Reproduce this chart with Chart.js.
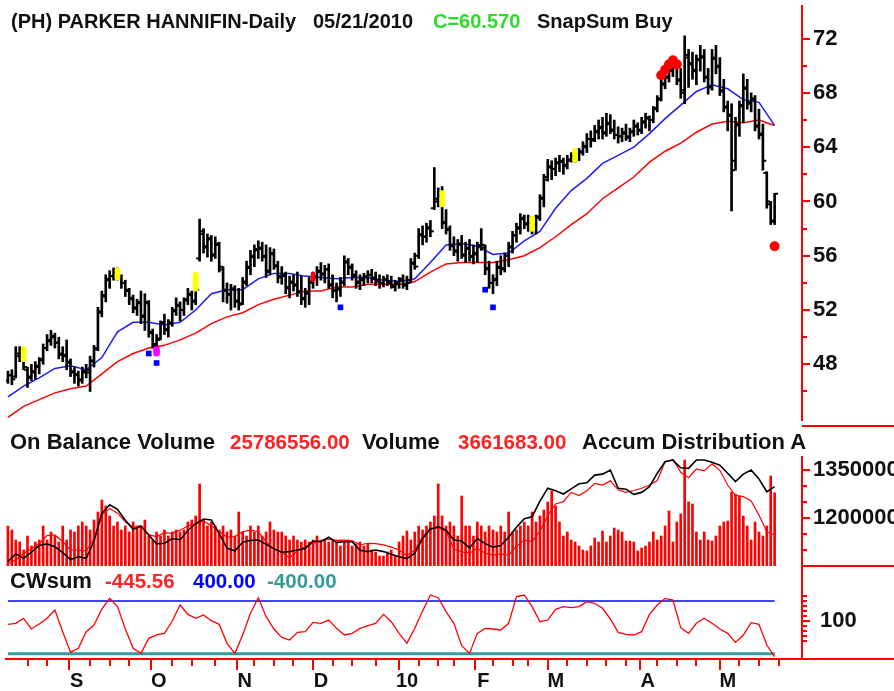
<!DOCTYPE html>
<html>
<head>
<meta charset="utf-8">
<script src="https://cdn.jsdelivr.net/npm/chart.js@4.4.1/dist/chart.umd.min.js"></script>
<style>
  body { margin: 0; background: #fff; width: 894px; height: 691px; position: relative; overflow: hidden;
         font-family: "Liberation Sans", Arial, sans-serif; }
  canvas { position: absolute; left: 0; }
  .t { position: absolute; font-weight: bold; font-size: 20px; line-height: 1; white-space: nowrap; color: #111; }
  .p { font-size: 22px; }
  .n { font-size: 20.5px; margin-top: 1px; }
  .hl { position: absolute; left: 802px; width: 92px; height: 0; border-top: 2px solid #f00; }
</style>
</head>
<body>
<canvas id="price" width="894" height="426" style="top:0"></canvas>
<canvas id="vol" width="894" height="140" style="top:426px"></canvas>
<canvas id="cw" width="894" height="125" style="top:566px"></canvas>

<div class="t" style="left:11px;top:11px">(PH) PARKER HANNIFIN-Daily</div>
<div class="t" style="left:313px;top:11px">05/21/2010</div>
<div class="t" style="left:433px;top:11px;color:#2bdc2b">C=60.570</div>
<div class="t" style="left:537px;top:11px">SnapSum Buy</div>

<div class="t p" style="left:10px;top:431px">On Balance Volume</div>
<div class="t n" style="left:230px;top:431px;color:#f22">25786556.00</div>
<div class="t p" style="left:362px;top:431px">Volume</div>
<div class="t n" style="left:458px;top:431px;color:#f22">3661683.00</div>
<div class="t p" style="left:582px;top:431px">Accum Distribution A</div>

<div class="t p" style="left:10px;top:570px">CWsum</div>
<div class="t n" style="left:105px;top:570px;color:#f22">-445.56</div>
<div class="t n" style="left:193px;top:570px;color:#00f">400.00</div>
<div class="t n" style="left:267px;top:570px;color:#339999">-400.00</div>

<div class="hl" style="top:425px"></div>
<div class="hl" style="top:565px"></div>
<div class="hl" style="top:658px"></div>

<script>
// daily bars, 08/11/2009 .. 05/21/2010 (index = trading day)
const opens = [
  46.8,47.2,47.1,48.6,48.9,47.6,47.1,47.4,47.9,48.4, 49.2,49.7,50.1,49.6,48.7,48.7,48.1,47.4,47.3,46.8,
  47.5,47.4,48.3,49.2,51.9,53.1,54.2,54.5,54.8,54.3, 54.0,53.5,52.9,52.1,52.6,51.5,52.5,50.4,49.4,49.9,
  51.1,50.5,51.1,52.0,52.3,52.0,52.8,53.1,52.7,55.8, 57.6,56.7,57.2,56.1,56.8,55.0,53.5,53.1,53.5,52.7,
  52.5,54.1,55.1,56.0,56.5,56.5,55.9,54.9,56.1,55.2, 54.5,54.5,53.7,54.1,53.9,53.3,52.9,53.3,54.1,54.4,
  54.9,54.6,55.0,53.8,53.5,53.6,54.1,55.5,55.1,54.6, 54.0,54.3,54.5,54.6,54.3,54.2,54.0,54.3,54.1,53.7,
  54.0,54.3,53.8,54.2,55.4,56.0,57.5,57.4,58.1,59.5, 60.2,60.4,58.5,57.9,56.8,56.3,56.9,56.1,56.5,56.0,
  56.1,56.7,56.6,55.1,54.0,54.3,55.1,55.1,56.0,56.7, 57.5,58.1,58.7,58.3,58.4,58.3,58.9,60.3,61.8,62.5,
  62.4,62.9,62.9,62.7,63.1,63.2,63.5,63.7,64.1,64.6, 64.6,65.1,65.5,65.1,65.7,65.2,64.9,64.8,65.1,64.7,
  65.2,65.5,65.3,65.9,66.1,66.0,66.9,67.6,68.7,69.1, 69.7,70.1,68.9,68.2,70.6,70.1,69.7,70.5,70.7,69.1,
  68.5,70.5,69.9,68.1,66.9,66.3,63.0,65.7,67.1,68.3, 67.3,67.5,65.5,64.9,62.1,59.8,58.6
];
const highs = [
  47.5,47.6,49.3,49.3,49.0,47.8,48.0,48.2,48.5,49.5, 50.2,50.5,50.3,50.0,49.3,49.8,48.4,47.8,47.5,47.8,
  48.0,48.6,49.4,52.2,53.4,54.6,54.9,55.1,55.1,54.6, 54.2,53.6,53.1,52.8,53.4,53.2,52.7,50.6,50.2,51.2,
  51.7,51.3,52.2,52.9,52.6,52.9,53.6,53.4,53.8,58.7, 58.0,57.6,57.5,57.4,57.0,55.2,54.0,53.9,53.8,53.6,
  54.4,55.6,56.4,56.8,57.1,57.0,56.8,56.6,56.5,55.6, 55.2,54.8,54.5,54.6,54.8,54.5,53.6,54.4,54.8,55.2,
  55.5,55.3,55.4,54.6,54.0,54.4,56.0,55.8,55.4,54.9, 54.6,54.7,54.9,55.0,54.8,54.6,54.5,54.6,54.5,54.2,
  54.4,54.6,54.5,55.8,56.2,58.0,58.2,58.4,58.6,62.5, 61.0,61.1,59.4,58.2,57.4,57.2,57.5,57.0,57.2,56.8,
  57.0,58.0,56.8,55.6,54.6,55.6,56.0,56.2,57.0,57.8, 58.4,59.1,59.0,59.0,58.9,59.0,60.5,62.0,63.1,63.0,
  63.2,63.4,63.2,63.4,63.6,63.8,63.9,64.4,65.0,65.2, 65.6,66.0,66.2,66.5,66.4,66.0,65.5,65.4,65.7,65.4,
  66.0,65.8,66.2,66.5,66.3,67.0,67.8,69.0,69.5,70.0, 70.6,70.4,69.8,72.2,71.2,71.0,70.8,71.5,71.2,69.8,
  71.2,71.5,70.6,69.0,67.4,67.2,66.2,67.4,69.4,69.0, 68.0,67.8,66.8,65.7,62.2,60.0,60.6
];
const lows = [
  46.6,46.5,47.0,48.2,47.6,46.3,46.8,46.9,47.3,48.0, 49.0,49.4,49.2,48.4,48.2,47.6,47.1,46.6,46.4,46.6,
  47.0,46.0,47.8,49.0,51.5,52.6,53.6,54.2,54.2,53.6, 53.0,52.4,51.8,51.6,51.0,50.5,50.0,49.2,49.0,49.8,
  50.2,50.0,50.8,51.6,51.2,51.6,52.4,52.0,52.4,55.6, 56.2,55.9,55.6,55.8,54.8,52.6,52.5,52.0,52.2,52.0,
  52.4,53.8,54.6,55.2,55.8,55.6,54.4,54.6,55.0,54.0, 53.9,53.2,52.9,53.4,53.0,52.4,52.2,52.4,53.6,53.8,
  54.2,54.0,53.6,52.9,52.6,53.0,53.8,54.6,54.2,53.6, 53.5,53.8,54.0,54.0,53.8,53.6,53.7,53.8,53.6,53.4,
  53.6,53.6,53.5,54.0,55.0,55.8,56.8,57.0,57.4,59.4, 59.6,58.0,57.6,56.4,56.0,55.6,55.8,55.5,55.6,55.4,
  55.5,56.4,54.6,53.6,53.2,53.8,54.6,54.8,55.2,56.2, 57.0,57.6,58.0,57.8,57.6,57.6,58.6,59.6,61.5,61.6,
  61.9,62.2,62.0,62.4,62.9,62.9,63.0,63.4,63.6,64.0, 64.4,64.6,64.6,64.8,65.0,64.6,64.3,64.4,64.5,64.4,
  64.8,64.9,65.0,65.4,65.2,65.8,66.6,67.4,68.3,68.8, 69.2,68.6,67.6,67.2,68.4,69.0,68.6,69.6,68.8,67.9,
  68.2,69.4,67.8,66.6,65.2,59.3,62.3,64.8,65.8,66.8, 66.6,65.2,64.6,62.3,59.5,58.3,58.3
];
const closes = [
  47.2,46.9,48.8,49.0,47.8,47.0,47.5,47.8,48.3,49.2, 49.8,50.0,49.6,48.8,48.6,48.2,47.5,47.2,46.9,47.4,
  47.6,48.2,49.1,51.8,53.0,54.3,54.5,54.7,54.4,54.0, 53.4,52.8,52.2,52.5,51.6,52.6,50.3,49.5,49.8,51.0,
  50.6,51.0,51.9,52.4,52.0,52.7,53.2,52.6,53.5,57.8, 56.6,57.3,56.0,56.9,55.2,53.4,53.2,53.6,52.6,52.4,
  54.0,55.2,55.9,56.4,56.6,56.0,54.8,56.2,55.3,54.4, 54.6,53.6,54.0,53.8,53.4,52.8,53.2,54.0,54.5,54.8,
  54.7,55.0,53.9,53.4,53.5,54.0,55.6,55.2,54.5,54.1, 54.2,54.4,54.6,54.4,54.1,54.0,54.2,54.0,53.8,53.9,
  54.2,53.9,54.0,55.5,55.2,57.6,57.4,58.0,57.8,60.0, 60.5,58.4,58.0,56.7,56.4,56.8,56.0,56.6,55.9,56.2,
  56.8,56.8,55.0,54.0,54.2,55.2,55.0,56.0,56.6,57.5, 58.0,58.8,58.4,58.5,58.2,58.8,60.2,61.6,62.6,62.4,
  62.8,63.0,62.6,63.0,63.3,63.5,63.6,64.0,64.6,64.5, 65.2,65.4,65.0,65.8,65.3,64.9,64.8,65.0,64.8,65.1,
  65.6,65.2,65.8,66.2,66.0,66.8,67.5,68.6,69.2,69.6, 70.2,69.0,68.0,70.8,70.2,69.6,70.4,70.6,69.2,68.4,
  70.6,70.0,68.2,67.0,66.4,62.3,65.6,67.0,68.4,67.2, 67.6,65.6,65.0,63.0,60.0,58.5,60.57
];

// moving averages, read every 4th bar
const maStep = 4;
const blueMA = [45.6,46.4,47.0,47.7,47.9,47.6,48.5,50.4,51.1,51.1, 50.9,51.1,52.0,53.2,53.5,53.5,54.3,54.7,54.7,54.5,
  54.4,54.3,54.4,54.4,54.2,54.1,54.3,55.5,56.8,56.9, 56.7,56.1,56.2,57.1,57.8,59.5,60.8,61.7,62.8,63.4,
  64.0,65.0,66.1,67.1,68.1,68.6,68.3,67.5,67.3,65.6];
const redMA = [44.1,44.9,45.4,45.9,46.2,46.4,47.3,48.2,48.8,49.2, 49.4,49.8,50.3,51.0,51.5,51.8,52.4,52.8,53.1,53.4,
  53.4,53.7,53.7,53.9,53.9,53.9,54.1,54.8,55.4,55.5, 55.5,55.5,55.7,56.0,56.6,57.4,58.3,59.1,60.2,61.0,
  61.8,62.9,63.7,64.3,65.1,65.7,65.9,65.8,66.0,65.6];

// signal marks on the price panel
const yellowIdx = [4, 28, 48, 111, 134, 145];
const yellowLo = [48.2, 54.2, 53.4, 59.6, 57.8, 62.9];
const yellowHi = [49.3, 55.1, 54.8, 60.8, 58.9, 63.9];
const magentaIdx = [38], magentaLo = [48.6], magentaHi = [49.3];
const redMarkIdx = [78], redMarkLo = [54.1], redMarkHi = [54.8];
const blueIdx = [36, 38, 85, 122, 124];
const blueVal = [48.8, 48.1, 52.2, 53.5, 52.2];
const redDotIdx = [167, 168, 169, 170, 171, 196];
const redDotVal = [69.3, 69.7, 70.1, 70.4, 70.1, 56.7];

// volume (millions of shares), one per bar
const volume = [
  2.0,1.8,1.3,1.2,0.8,1.5,1.0,1.2,1.3,2.0, 1.3,1.7,1.5,1.2,2.0,1.3,1.8,1.7,2.0,2.2,
  2.0,1.8,2.3,2.7,3.3,3.0,2.5,2.0,2.2,1.8, 2.0,1.7,2.2,2.0,2.0,2.3,1.5,1.3,1.7,1.5,
  1.8,1.5,1.7,1.8,1.7,1.8,2.2,2.3,2.5,4.1, 2.3,2.0,2.2,2.0,1.8,2.0,1.7,1.8,1.5,2.7,
  1.7,1.5,2.0,1.7,2.0,1.5,1.7,2.2,1.8,1.7, 1.7,1.5,1.3,1.5,1.3,1.2,1.3,1.2,1.3,1.5,
  1.2,1.3,1.2,1.3,1.2,1.0,1.2,1.3,1.0,1.1, 1.2,1.0,1.1,0.8,0.7,0.5,0.5,0.7,0.8,0.5,
  1.2,1.5,1.75,1.3,1.7,2.0,1.8,2.0,2.2,2.5, 4.1,2.5,2.0,2.2,2.0,1.5,3.5,2.0,2.0,1.5,
  2.2,2.0,1.7,2.0,1.8,1.7,2.0,1.7,2.7,1.7, 1.8,2.0,2.2,2.0,2.7,2.2,2.5,2.8,3.2,3.75,
  3.0,2.2,1.5,1.7,1.3,1.2,1.0,0.8,0.75,1.0, 1.4,1.2,1.75,1.2,1.5,1.9,1.8,1.7,1.25,1.25,
  1.2,0.75,0.9,1.0,1.2,1.7,1.3,1.5,2.0,2.75, 1.2,2.2,2.6,5.3,3.2,3.1,1.7,1.3,1.7,1.3,
  1.25,1.5,2.0,2.2,2.25,3.7,3.6,3.5,2.5,2.0, 1.3,2.2,1.7,1.5,2.0,4.5,3.66
];

// indicator lines read every 2nd bar (thousands on the right axis)
const lineStep = 2;
const obvK = [1064,1088,1074,1093,1114,1119,1110,1092,1070,1079, 1074,1128,1215,1241,1227,1193,1165,1174,1147,1119,
  1121,1136,1132,1161,1182,1197,1194,1151,1106,1097, 1124,1130,1131,1118,1104,1093,1095,1100,1105,1128,
  1126,1140,1124,1126,1126,1099,1095,1100,1095,1087, 1079,1073,1090,1136,1165,1173,1162,1131,1128,1107,
  1136,1120,1109,1114,1140,1171,1198,1204,1253,1293, 1285,1275,1291,1307,1310,1334,1337,1350,1293,1290,
  1274,1280,1298,1340,1376,1381,1357,1355,1381,1381, 1374,1365,1340,1314,1337,1350,1322,1282,1298];
const adK = [1058,1069,1090,1103,1120,1145,1147,1126,1100,1100, 1097,1136,1209,1230,1215,1188,1170,1177,1147,1142,
  1154,1152,1162,1175,1181,1191,1176,1158,1141,1142, 1157,1162,1157,1126,1102,1092,1076,1097,1110,1121,
  1130,1134,1130,1131,1129,1116,1121,1120,1116,1109, 1100,1082,1100,1142,1168,1168,1159,1103,1094,1090,
  1105,1090,1084,1088,1084,1112,1131,1126,1159,1207, 1244,1251,1280,1270,1285,1308,1303,1316,1288,1280,
  1286,1293,1303,1317,1376,1383,1343,1326,1353,1347, 1369,1349,1303,1271,1267,1253,1209,1157,1147];
const cwSum = [46,61,137,-25,51,137,263,-66,-380,-319, -66,35,278,440,314,-25,-319,-395,-167,-116,
  -91,96,339,197,137,187,101,46,-243,-395, -116,213,450,162,-25,-152,-192,-76,-66,76,
  61,111,-15,-116,-91,-15,25,61,197,86, -91,-243,-15,248,491,450,238,61,-278,-395,
  -91,-15,-25,-40,61,466,491,314,86,111, 273,314,299,314,390,365,289,127,-76,-106,
  -116,-66,197,339,440,415,-5,-91,61,137, 61,-25,-91,-228,-116,71,46,-268,-445.56];
const cwUpper = 400, cwLower = -400;

// axis ticks
const priceTicks = [46,48,50,52,54,56,58,60,62,64,66,68,70,72];
const volTicksK = [1100, 1150, 1200, 1250, 1300, 1350];
const volLabelsK = [1200, 1350];
const cwTicks = [-200,-125,-50,25,100,175,250,325,400,475];
const cwLabels = [100];
const weekTicks = [5,10,21,26,31,42,47,53,63,68,73,83,88,94,105,110,114,124,129,133,143,148,153,158,166,171,176,187,192,197];
const monthTicks = [15.5,36.5,58.5,78,100,119.5,138,161.5,182];
const monthLabels = ['S','O','N','D','10','F','M','A','M'];

Chart.defaults.font.family = '"Liberation Sans", Arial, sans-serif';
const RED = '#ff0000';
const tickFont = { size: 22, weight: 'bold' };

function rightAxis(min, max, ticks, isMajor, label, pad) {
  return {
    position: 'right', min: min, max: max,
    border: { display: true, color: RED, width: 2 },
    grid: { drawOnChartArea: false, color: RED, lineWidth: 2, tickLength: 8,
            tickBorderDash: c => (c.tick && isMajor(c.tick.value) ? [] : [4, 40]) },
    ticks: { color: '#111', font: tickFont, padding: pad, autoSkip: false,
             callback: v => (isMajor(v) ? label(v) : '') },
    afterBuildTicks: s => { s.ticks = ticks.map(v => ({ value: v })); },
    afterFit: s => { s.width = 92; s.paddingTop = 0; s.paddingBottom = 0; }
  };
}
const hiddenX = { type: 'linear', min: -0.5, max: 203, offset: false, display: false };
function baseOpts(padTop, scales) {
  return {
    responsive: false, animation: false, events: [],
    layout: { padding: { left: 6, top: padTop, right: 0, bottom: 0 } },
    plugins: { legend: { display: false }, tooltip: { enabled: false } },
    scales: scales
  };
}
const lineDs = (pts, color, width, order) => ({
  type: 'line', data: pts, borderColor: color, borderWidth: width,
  pointRadius: 0, tension: 0, order: order
});
const floatBars = (idx, lo, hi, color, thick, order) => ({
  type: 'bar', data: idx.map((i, k) => ({ x: i, y: [lo[k], hi[k]] })),
  backgroundColor: color, barThickness: thick, borderRadius: 3, borderSkipped: false,
  grouped: false, order: order
});
const tickDs = (vals, shift) => ({
  type: 'line', data: vals.map((v, i) => ({ x: i + shift, y: v })), showLine: false,
  pointStyle: 'line', pointRadius: 1.5, pointBorderWidth: 2, pointBorderColor: '#000', order: 2
});

// price panel
new Chart(document.getElementById('price'), {
  type: 'bar',
  data: { datasets: [
    floatBars(yellowIdx, yellowLo, yellowHi, '#ffff00', 5, 1),
    floatBars(magentaIdx, magentaLo, magentaHi, '#ff00ff', 6, 1),
    floatBars(redMarkIdx, redMarkLo, redMarkHi, RED, 4, 1),
    { type: 'line', data: blueIdx.map((i, k) => ({ x: i, y: blueVal[k] })), showLine: false,
      pointStyle: 'rect', pointRadius: 4, pointBackgroundColor: '#0000ff', pointBorderWidth: 0, order: 0 },
    { type: 'line', data: redDotIdx.map((i, k) => ({ x: i, y: redDotVal[k] })), showLine: false,
      pointStyle: 'circle', pointRadius: 5, pointBackgroundColor: RED, pointBorderWidth: 0, order: 0 },
    { type: 'bar', data: highs.map((h, i) => ({ x: i, y: [lows[i], h] })), backgroundColor: '#000',
      barThickness: 2, grouped: false, order: 2 },
    tickDs(opens, -0.5),
    tickDs(closes, 0.5),
    lineDs(blueMA.map((v, k) => ({ x: k * maStep, y: v })), '#1c1cff', 1.5, 3),
    lineDs(redMA.map((v, k) => ({ x: k * maStep, y: v })), RED, 1.5, 3)
  ] },
  options: baseOpts(5, {
    x: hiddenX,
    y: rightAxis(43.9, 74.4, priceTicks, v => v % 4 === 0, v => String(v), 3)
  })
});

// volume / OBV / accumulation-distribution panel
new Chart(document.getElementById('vol'), {
  type: 'bar',
  data: { datasets: [
    lineDs(obvK.map((v, k) => ({ x: k * lineStep, y: v })), '#000', 1.6, 0),
    lineDs(adK.map((v, k) => ({ x: k * lineStep, y: v })), RED, 1.2, 1),
    { type: 'bar', yAxisID: 'yv', data: volume.map((v, i) => ({ x: i, y: v })), backgroundColor: RED,
      barThickness: 2, grouped: false, order: 2 }
  ] },
  options: baseOpts(31, {
    x: hiddenX,
    y: rightAxis(1050, 1390.6, volTicksK, v => volLabelsK.includes(v), v => String(v * 1000), 3),
    yv: { display: false, min: 0, max: 5.45 }
  })
});

// CWsum panel with the date axis
new Chart(document.getElementById('cw'), {
  type: 'line',
  data: { datasets: [
    lineDs(cwSum.map((v, k) => ({ x: k * lineStep, y: v })), RED, 1.3, 0),
    lineDs([{ x: 0, y: cwUpper }, { x: closes.length - 1, y: cwUpper }], '#0000ff', 1.5, 1),
    lineDs([{ x: 0, y: cwLower }, { x: closes.length - 1, y: cwLower }], '#339c9c', 3, 1)
  ] },
  options: baseOpts(0, {
    x: {
      type: 'linear', position: 'bottom', min: -0.5, max: 203, offset: false,
      border: { display: true, color: RED, width: 2 },
      grid: { drawOnChartArea: false, offset: false, color: RED, lineWidth: 2, tickLength: 11,
              tickBorderDash: c => (c.tick && monthTicks.includes(c.tick.value) ? [] : [6, 40]) },
      ticks: { color: '#111', font: { size: 20, weight: 'bold' }, padding: -1, labelOffset: 8,
               autoSkip: false, maxRotation: 0,
               callback: v => { const m = monthTicks.indexOf(v); return m >= 0 ? monthLabels[m] : ''; } },
      afterBuildTicks: s => {
        s.ticks = weekTicks.concat(monthTicks).sort((a, b) => a - b).map(v => ({ value: v }));
      },
      afterFit: s => { s.height = 32; s.paddingLeft = 0; s.paddingRight = 0; }
    },
    y: rightAxis(-480.5, 931, cwTicks, v => cwLabels.includes(v), v => String(v), 10)
  })
});
</script>
</body>
</html>
